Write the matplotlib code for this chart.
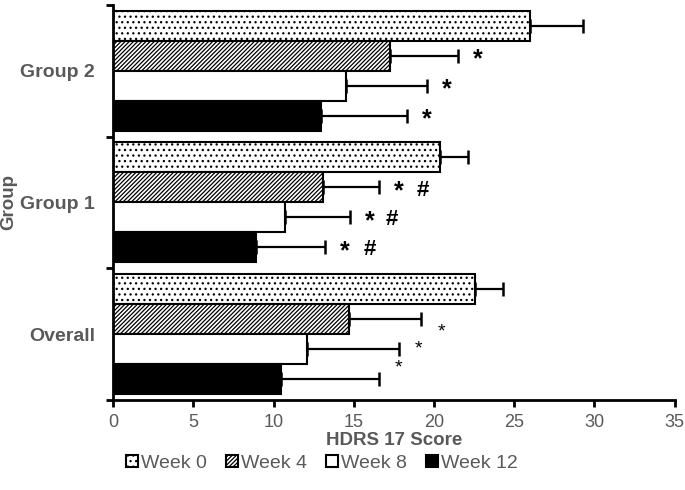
import matplotlib
matplotlib.use("Agg")
import matplotlib.pyplot as plt
import numpy as np
from matplotlib.patches import Patch

plt.rcParams["font.family"] = ["Liberation Sans", "DejaVu Sans"]
plt.rcParams["hatch.linewidth"] = 0.9

GRAY = "#595959"

groups = ["Overall", "Group 1", "Group 2"]
weeks = ["Week 0", "Week 4", "Week 8", "Week 12"]
# 平均値 [group][week]
means = np.array([
    [22.55, 14.7, 12.1, 10.45],   # Overall
    [20.4, 13.1, 10.7, 8.9],      # Group 1
    [26.0, 17.25, 14.5, 12.95],   # Group 2
])
# SD（片側のみ描画）
sds = np.array([
    [1.75, 4.5, 5.7, 6.1],
    [1.7, 3.45, 4.05, 4.3],
    [3.3, 4.25, 5.05, 5.35],
])
# 有意差マーク: * (vs Week 0), # (Group 1 のみ)
stars = [
    [False, True, True, True],
    [False, True, True, True],
    [False, True, True, True],
]
hashes = [False, True, True, True]          # Group 1
hash_gap = [0, 1.8, 1.7, 1.85]              # * 左端から # 中心までの距離
# Overall のマークは棒中心からずれている
overall_dy = [0.0, -0.10, 0.0, 0.085]

hatches = ["...", "////////", "", ""]
faces = ["white", "white", "white", "black"]

fig = plt.figure(figsize=(6.85, 4.9), dpi=100)
ax = fig.add_axes([0.165, 0.184, 0.82, 0.806])

bh = 0.2275
for gi, g in enumerate(groups):
    for wi in range(4):
        yc = gi + 0.455 - bh / 2 - wi * bh
        ax.barh(yc, means[gi, wi], height=bh, color=faces[wi], edgecolor="black",
                hatch=hatches[wi], linewidth=1.5, zorder=2)
        ax.errorbar(means[gi, wi], yc, xerr=[[0], [sds[gi, wi]]], fmt="none",
                    ecolor="black", elinewidth=1.6, capsize=5, capthick=1.8, zorder=3)
        if not stars[gi][wi]:
            continue
        xe = means[gi, wi] + sds[gi, wi]
        if gi == 0:
            ax.text(xe + 1.0, yc + overall_dy[wi], "*", ha="left", va="center",
                    fontsize=14, color="black")
        else:
            ax.text(xe + 0.95, yc - 0.03, "*", ha="left", va="center", fontsize=18,
                    fontweight="bold", color="black")
            if gi == 1 and hashes[wi]:
                ax.text(xe + 0.95 + hash_gap[wi], yc - 0.02, "#", ha="center", va="center",
                        fontsize=16, fontweight="bold", color="black")

ax.set_xlim(0, 35)
ax.set_ylim(-0.5, 2.5)
ax.set_xticks(np.arange(0, 36, 5))
ax.set_yticks([0, 1, 2])
ax.set_yticklabels(groups, fontsize=14, fontweight="bold", color=GRAY)
ax.set_yticks([-0.5, 0.5, 1.5, 2.5], minor=True)
ax.tick_params(axis="y", which="major", length=0, pad=13)
ax.tick_params(axis="y", which="minor", length=5, width=2, direction="out")
ax.tick_params(axis="x", labelsize=13, labelcolor=GRAY, length=5, width=2, pad=5)
for s in ["top", "right"]:
    ax.spines[s].set_visible(False)
for s in ["left", "bottom"]:
    ax.spines[s].set_linewidth(2)

ax.set_xlabel("HDRS 17 Score", fontsize=13.5, fontweight="bold", color=GRAY, labelpad=1)
ax.set_ylabel("Group", fontsize=13.5, fontweight="bold", color=GRAY, labelpad=2)

handles = [Patch(facecolor=faces[i], edgecolor="black", hatch=hatches[i], linewidth=1.5)
           for i in range(4)]
fig.legend(handles, weeks, loc="center", bbox_to_anchor=(0.47, 0.055), ncol=4,
           frameon=False, fontsize=14, handlelength=0.6, handleheight=0.6,
           handletextpad=0.15, columnspacing=1.0, labelcolor=GRAY)

fig.savefig("out.png", dpi=100)
